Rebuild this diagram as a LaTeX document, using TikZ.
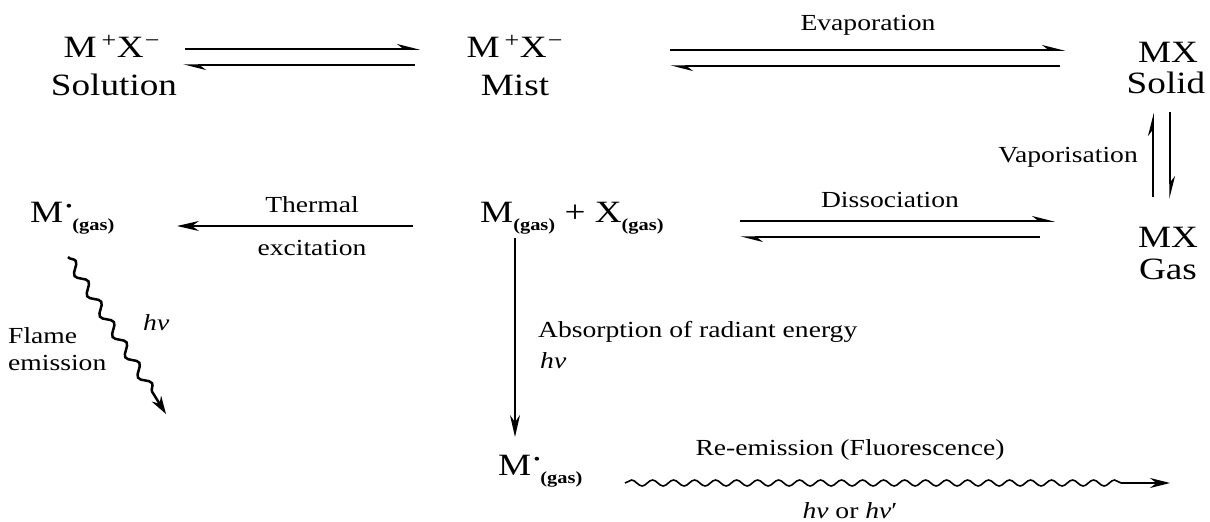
\documentclass[tikz,border=0pt]{standalone}
\usepackage{fontspec}
\setmainfont{Liberation Serif}
\usepackage{graphicx}
\usetikzlibrary{arrows.meta,decorations.pathmorphing}
\newcommand{\W}[1]{\scalebox{1.2}[1]{#1}}
\newcommand{\gas}{\raisebox{-8pt}{\fontsize{17}{17}\selectfont\bfseries (gas)}}
\newcommand{\exc}{\kern2pt\raisebox{11pt}{\fontsize{16}{16}\selectfont •}}
\newcommand{\hnu}{\textit{hν}}
\newcommand{\ion}{M\kern4pt\textsuperscript{+}X\kern1pt\textsuperscript{−}}
\tikzset{
  big/.style={font=\fontsize{31}{31}\selectfont, inner sep=0pt, anchor=base},
  lab/.style={font=\fontsize{23}{23}\selectfont, inner sep=0pt, anchor=base},
  eq/.style={line width=1.5pt, -{Stealth[harpoon, length=20pt, width=10pt]}},
  arr/.style={line width=1.5pt, -{Stealth[length=22pt, width=10pt]}},
}
\begin{document}
\begin{tikzpicture}[x=1pt,y=-1pt]
\useasboundingbox (0,0) rectangle (1210,522);
% row 1
\node[big] (solA) at (112,57) {\W{\ion}};
\node[big] (solB) at (114,95) {\W{Solution}};
\node[big] (misA) at (515,57) {\W{\ion}};
\node[big] (misB) at (515,95) {\W{Mist}};
\node[big] (sldA) at (1168,62) {\W{MX}};
\node[big] (sldB) at (1166,93) {\W{Solid}};
\coordinate (e1a) at (185,49); \coordinate (e1b) at (420,49);
\coordinate (e1c) at (415,65); \coordinate (e1d) at (183,65);
\draw[eq] (e1a) -- (e1b);
\draw[eq] (e1c) -- (e1d);
\coordinate (e2a) at (670,50); \coordinate (e2b) at (1065,50);
\coordinate (e2c) at (1060,66); \coordinate (e2d) at (670,66);
\draw[eq] (e2a) -- (e2b);
\draw[eq] (e2c) -- (e2d);
\node[lab] (evap) at (868,30) {\W{Evaporation}};
% vaporisation
\coordinate (v1a) at (1153,197); \coordinate (v1b) at (1153,113);
\coordinate (v2a) at (1170,112); \coordinate (v2b) at (1170,199);
\draw[eq] (v1a) -- (v1b);
\draw[eq] (v2a) -- (v2b);
\node[lab, anchor=base east] (vap) at (1138,162) {\W{Vaporisation}};
\node[big] (gasA) at (1168,247) {\W{MX}};
\node[big] (gasB) at (1168,279) {\W{Gas}};
% row 2
\node[big, anchor=base west] (mexc) at (30,222) {\W{M\exc\gas}};
\coordinate (th1) at (413,226); \coordinate (th2) at (177,226);
\draw[arr] (th1) -- (th2);
\node[lab] (therm) at (312,212) {\W{Thermal}};
\node[lab] (excit) at (312,255) {\W{excitation}};
\node[big, anchor=base west] (mx) at (480,222) {\W{M\gas{} + X\gas}};
\coordinate (d1a) at (740,221); \coordinate (d1b) at (1055,221);
\coordinate (d2a) at (1040,237); \coordinate (d2b) at (740,237);
\draw[eq] (d1a) -- (d1b);
\draw[eq] (d2a) -- (d2b);
\node[lab] (diss) at (890,207) {\W{Dissociation}};
% absorption
\coordinate (ab1) at (515,238); \coordinate (ab2) at (515,437);
\draw[arr] (ab1) -- (ab2);
\node[lab, anchor=base west] (absA) at (538,337) {\W{Absorption of radiant energy}};
\node[lab, anchor=base west] (absB) at (540,368) {\W{\hnu}};
% flame emission
\coordinate (f1) at (68,257); \coordinate (f2) at (166,414);
\draw[line width=2.5pt, decorate, decoration={snake, amplitude=4.5pt, segment length=24pt, post length=18pt}, -{Stealth[length=18pt, width=11pt]}] (f1) -- (f2);
\node[lab, anchor=base west] (flA) at (8,343) {\W{Flame}};
\node[lab, anchor=base west] (flB) at (8,370) {\W{emission}};
\node[lab, anchor=base west] (flh) at (143,330) {\W{\hnu}};
% row 3
\node[big, anchor=base west] (mexc2) at (498,475) {\W{M\exc\gas}};
\coordinate (w1) at (625,483); \coordinate (w2) at (1170,483);
\draw[line width=1.6pt, decorate, decoration={snake, amplitude=3pt, segment length=21pt, post length=45pt}, -{Stealth[length=20pt, width=10pt]}] (w1) -- (w2);
\node[lab] (reem) at (850,455) {\W{Re-emission (Fluorescence)}};
\node[lab] (hnu2) at (850,518) {\W{\hnu{} or \hnu′}};
\end{tikzpicture}
\end{document}
